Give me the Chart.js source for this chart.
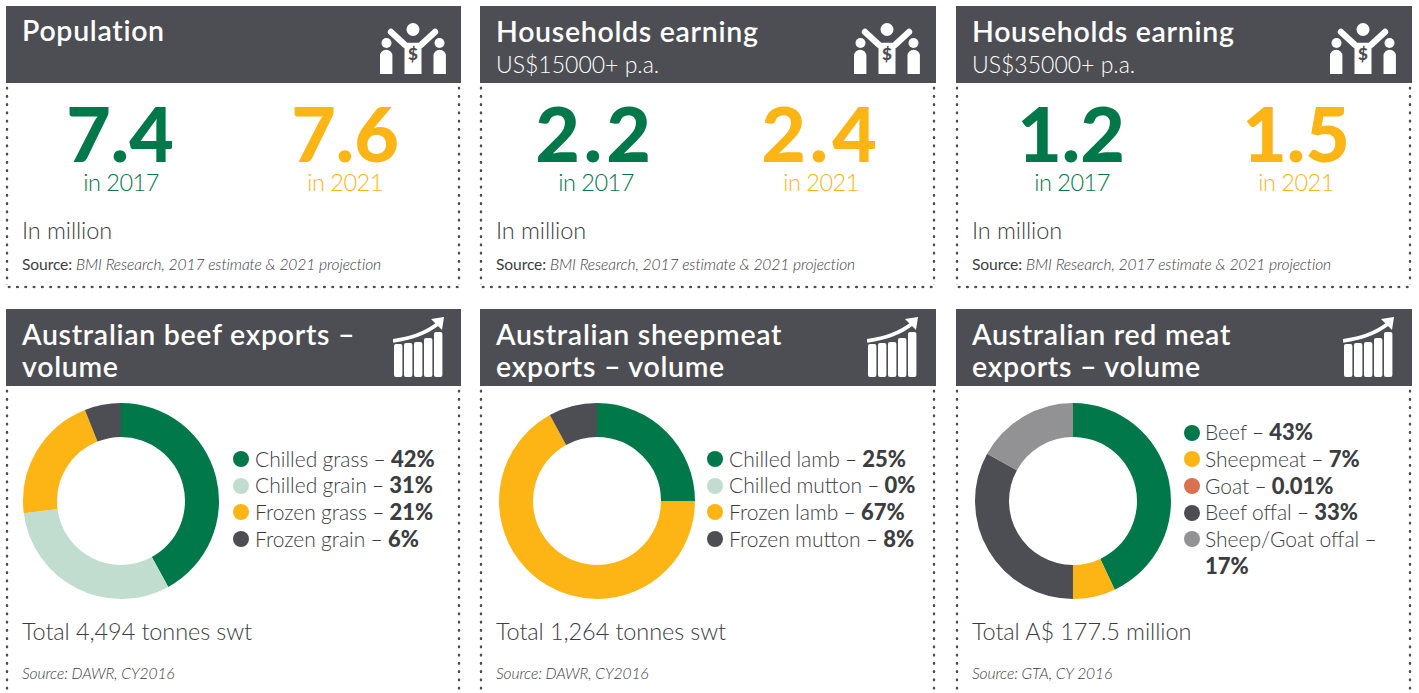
<!DOCTYPE html>
<html><head><meta charset="utf-8">
<script src="https://cdn.jsdelivr.net/npm/chart.js@4"></script>
<style>
html,body{margin:0;padding:0;background:#fff;width:1419px;height:693px;overflow:hidden}
body{position:relative;font-family:Lato,"Open Sans",sans-serif;color:#3c3d41}
.a{position:absolute;white-space:nowrap}
.hd{position:absolute;background:#4d4e53;height:77px}
.t{color:#fff;font-size:28.5px;font-weight:600;letter-spacing:.7px;line-height:32px}
.sub{color:#fff;font-size:23px;font-weight:300;line-height:26px}
.big{font-size:77px;font-weight:900;line-height:56px;transform:translateX(-50%)}
.yr{font-size:23.5px;font-weight:300;line-height:26px;letter-spacing:-.5px;transform:translateX(-50%)}
.note{font-size:23.5px;font-weight:300;line-height:28px;letter-spacing:-.1px}
.src{font-size:15.6px;line-height:18px;font-weight:400;letter-spacing:-.1px}
.src i{font-weight:300}
.leg{font-size:21px;font-weight:300;line-height:26.7px;word-spacing:-.5px}
.leg b{font-weight:900;font-size:22px}
.dot{position:absolute;width:16px;height:16px;border-radius:50%}
.vd,.hdot{position:absolute}
.vd{width:4px;background-image:radial-gradient(circle,#4d4e53 1.2px,transparent 1.6px);background-size:4px 8.25px}
.hdot{height:4px;background-image:radial-gradient(circle,#4d4e53 1.2px,transparent 1.6px);background-size:8.3px 4px}
canvas{position:absolute}
</style></head><body>
<svg width="0" height="0" style="position:absolute"><defs>
<symbol id="people" viewBox="0 0 66 52">
<circle cx="33" cy="6.5" r="6.5" fill="#fff"/>
<circle cx="6.5" cy="20" r="5" fill="#fff"/><circle cx="59.5" cy="20" r="5" fill="#fff"/>
<path d="M0 51V33a6.2 6.2 0 0 1 12.4 0V51zM53.5 51V33a6.2 6.2 0 0 1 12.4 0V51z" fill="#fff"/>
<path d="M11 9 L24 21 Q26 23 27 23H39Q40 23 42 21L55 9" stroke="#fff" stroke-width="6.4" stroke-linecap="round" fill="none"/>
<path d="M24.5 22H41.5V51H24.5z" fill="#fff"/>
<text x="33" y="37" text-anchor="middle" font-size="17" font-weight="900" fill="#4d4e53" font-family="Lato">$</text>
</symbol>
<symbol id="bars" viewBox="0 0 52 60">
<rect x="1" y="27" width="8.4" height="33" rx="2" fill="#fff"/><rect x="11" y="26" width="8.4" height="34" rx="2" fill="#fff"/>
<rect x="21" y="25" width="8.4" height="35" rx="2" fill="#fff"/><rect x="31" y="21" width="8.4" height="39" rx="2" fill="#fff"/>
<rect x="41" y="15" width="8.4" height="45" rx="2" fill="#fff"/>
<path d="M0 24C18 21 32 17 46 6" stroke="#fff" stroke-width="3.8" fill="none"/>
<path d="M38 2L51 0L49 13z" fill="#fff"/>
</symbol>
</defs></svg>
<script>
const panelLefts = [6, 480, 956];
const panelWidths = [455, 456, 456];
const textLefts = [22, 496, 972];

const topTitles = ["Population", "Households earning", "Households earning"];
const topSubtitles = ["", "US$15000+ p.a.", "US$35000+ p.a."];
const values2017 = ["7.4", "2.2", "1.2"];
const values2021 = ["7.6", "2.4", "1.5"];
const centers2017 = [120, 595, 1071];
const centers2021 = [345, 821, 1296];
const numberSpacing = ["0", "4px", "0"];
const unitNote = "In million";
const yearLabels = ["in 2017", "in 2021"];
const sourceLead = "Source:";
const sourceTop = "BMI Research, 2017 estimate & 2021 projection";

const donutTitles = [["Australian beef exports –", "volume"], ["Australian sheepmeat", "exports – volume"], ["Australian red meat", "exports – volume"]];
const beefLabels = ["Chilled grass", "Chilled grain", "Frozen grass", "Frozen grain"];
const beefValues = [42, 31, 21, 6];
const beefText = ["42%", "31%", "21%", "6%"];
const sheepLabels = ["Chilled lamb", "Chilled mutton", "Frozen lamb", "Frozen mutton"];
const sheepValues = [25, 0, 67, 8];
const sheepText = ["25%", "0%", "67%", "8%"];
const redLabels = ["Beef", "Sheepmeat", "Goat", "Beef offal", "Sheep/Goat offal"];
const redValues = [43, 7, 0.01, 33, 17];
const redText = ["43%", "7%", "0.01%", "33%", "17%"];
const GREEN = "#00784a", MINT = "#c0ddd0", AMBER = "#fdb515", DARK = "#4d4e53", CORAL = "#d9704f", GREY = "#929194";
const fourColors = [GREEN, MINT, AMBER, DARK];
const fiveColors = [GREEN, AMBER, CORAL, DARK, GREY];
const totals = ["Total 4,494 tonnes swt", "Total 1,264 tonnes swt", "Total A$ 177.5 million"];
const donutSources = ["Source: DAWR, CY2016", "Source: DAWR, CY2016", "Source: GTA, CY 2016"];

function el(cls, x, y, html, color) {
  const d = document.createElement("div");
  d.className = cls; d.style.left = x + "px"; d.style.top = y + "px";
  if (html !== undefined) d.innerHTML = html;
  if (color) d.style.color = color;
  document.body.appendChild(d);
  return d;
}
function esc(s){return s.replace(/&/g,"&amp;");}
function dots(px, w, top, bottom, bottomLine) {
  const l = el("vd", px - 1, top); l.style.height = (bottom - top) + "px";
  const r = el("vd", px + w - 4, top); r.style.height = (bottom - top) + "px";
  if (bottomLine) { const b = el("hdot", px - 1, bottom); b.style.width = (w + 1) + "px"; }
}
function icon(id, x, y, w, h) {
  const s = document.createElementNS("http://www.w3.org/2000/svg","svg");
  s.setAttribute("width", w); s.setAttribute("height", h);
  s.style.position = "absolute"; s.style.left = x + "px"; s.style.top = y + "px";
  const u = document.createElementNS("http://www.w3.org/2000/svg","use");
  u.setAttribute("href", "#" + id); s.appendChild(u);
  document.body.appendChild(s);
}

panelLefts.forEach((px, i) => {
  const tx = textLefts[i], w = panelWidths[i];
  const h1 = el("hd", px, 6), h2 = el("hd", px, 309);
  h1.style.width = h2.style.width = w + "px";
  dots(px, w, 84, 285, true); dots(px, w, 387, 690, false);
  el("a t", tx, i === 0 ? 14 : 15, topTitles[i]);
  if (topSubtitles[i]) el("a sub", tx, 51, topSubtitles[i]);
  icon("people", px + 374, 23, 66, 52);
  icon("bars", px + 387, 317, 52, 60);

  el("a big", centers2017[i], 104, values2017[i], GREEN).style.letterSpacing = numberSpacing[i];
  el("a big", centers2021[i], 104, values2021[i], AMBER).style.letterSpacing = numberSpacing[i];
  el("a yr", centers2017[i] + 1, 169, yearLabels[0], GREEN);
  el("a yr", centers2021[i], 169, yearLabels[1], AMBER);
  el("a note", tx, 216, unitNote);
  el("a src", tx, 254.5, sourceLead + " <i>" + esc(sourceTop) + "</i>");

  el("a t", tx, 318, donutTitles[i][0]);
  el("a t", tx, 350, donutTitles[i][1]);
  el("a note", tx, 617, totals[i]);
  el("a src", tx, 663.5, "<i>" + donutSources[i] + "</i>");
});

function donut(cx, labels, values, colors) {
  const c = document.createElement("canvas");
  c.width = 200; c.height = 200;
  c.style.cssText = `left:${cx - 100}px;top:401px;width:200px;height:200px`;
  document.body.appendChild(c);
  new Chart(c, {
    type: "doughnut",
    data: { labels, datasets: [{ data: values, backgroundColor: colors, borderWidth: 0 }] },
    options: {
      responsive: false, animation: false, cutout: "65.3%",
      layout: { padding: 2 },
      plugins: { legend: { display: false }, tooltip: { enabled: false } }
    }
  });
}
donut(121, beefLabels, beefValues, fourColors);
donut(597, sheepLabels, sheepValues, fourColors);
donut(1073, redLabels, redValues, fiveColors);

function legend(dotX, labelX, firstY, labels, texts, colors, wrapLast) {
  labels.forEach((lab, k) => {
    const y = firstY + k * 26.7;
    const d = el("dot", dotX - 8, y - 8); d.style.background = colors[k];
    const html = (wrapLast && k === labels.length - 1)
      ? lab + " –<br><b>" + texts[k] + "</b>"
      : lab + " – <b>" + texts[k] + "</b>";
    el("a leg", labelX, y - 13.3, html);
  });
}
legend(241, 255, 459, beefLabels, beefText, fourColors, false);
legend(715, 729, 459, sheepLabels, sheepText, fourColors, false);
legend(1192, 1205, 432.5, redLabels, redText, fiveColors, true);
</script>
</body></html>
